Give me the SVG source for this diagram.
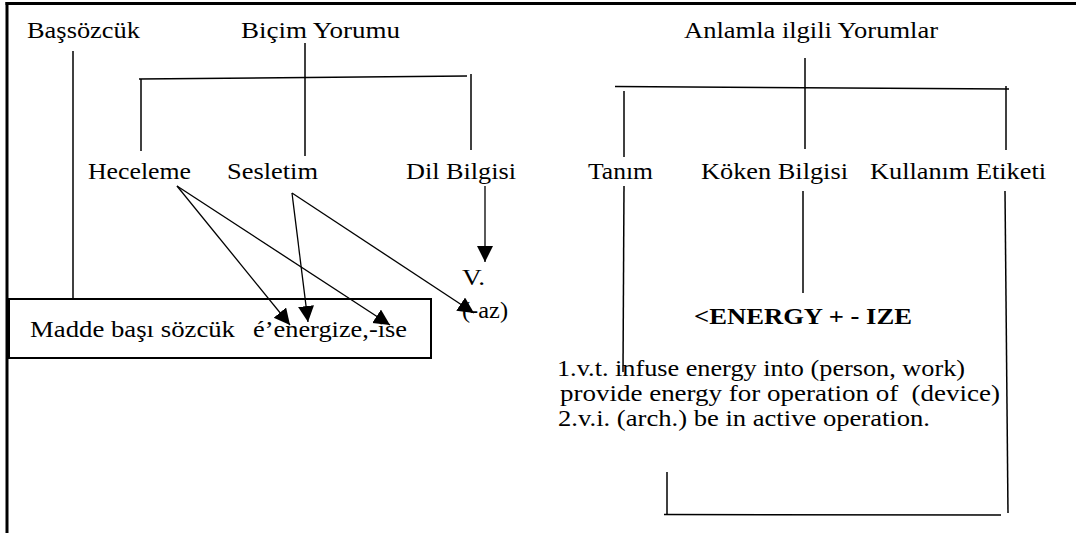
<svg xmlns="http://www.w3.org/2000/svg" width="1076" height="533" viewBox="0 0 1076 533">
<style>
text{font-family:"Liberation Serif","Tinos","Times New Roman","DejaVu Serif",serif;font-size:24px;fill:#000}
.b{font-weight:bold}
.ln{stroke:#000;stroke-width:1.5;fill:none}
.ar{stroke:#000;stroke-width:1.3;fill:none;marker-end:url(#ah)}
.frame{stroke:#000;stroke-width:3;fill:none}
</style>
<defs>
<marker id="ah" markerUnits="userSpaceOnUse" markerWidth="18" markerHeight="18" refX="16" refY="8" orient="auto">
<path d="M0,0 L16,8 L0,16 z" fill="#000"/>
</marker>
</defs>
<rect width="1076" height="533" fill="#fff"/>
<g id="frame">
<line class="frame" x1="5.5" y1="3.5" x2="1076" y2="3.5"/>
<line class="frame" x1="7" y1="2" x2="7" y2="533"/>
</g>
<g id="connectors">
<line class="ln" x1="73" y1="51" x2="73" y2="299"/>
<line class="ln" x1="305" y1="43" x2="305" y2="156"/>
<line class="ln" x1="139" y1="79" x2="467" y2="76"/>
<line class="ln" x1="141" y1="79" x2="141" y2="151"/>
<line class="ln" x1="471" y1="74" x2="471" y2="150"/>
<line class="ln" x1="805" y1="58" x2="805" y2="149"/>
<line class="ln" x1="615" y1="86.5" x2="1009" y2="89"/>
<line class="ln" x1="624" y1="91" x2="624" y2="157"/>
<line class="ln" x1="1006" y1="86" x2="1006" y2="150"/>
<line class="ln" x1="624" y1="186" x2="623" y2="372"/>
<line class="ln" x1="803" y1="191" x2="803" y2="293"/>
<line class="ln" x1="1005" y1="191" x2="1008" y2="513"/>
<line class="ln" x1="667" y1="472" x2="667" y2="514"/>
<line class="ln" x1="664" y1="514.5" x2="1001" y2="515"/>
<line class="ar" x1="485" y1="186" x2="485" y2="262"/>
<line class="ar" x1="177" y1="186" x2="290" y2="325"/>
<line class="ar" x1="177" y1="186" x2="390" y2="325"/>
<line class="ar" x1="292" y1="193" x2="308" y2="322"/>
<line class="ar" x1="292" y1="193" x2="474" y2="313"/>
</g>
<g font-family="Liberation Serif, Tinos, Times New Roman, DejaVu Serif, serif">
<g id="bassozcuk"><text x="27" y="38" textLength="113" lengthAdjust="spacingAndGlyphs">Başsözcük</text></g>
<g id="bicim-yorumu"><text x="241" y="38" textLength="159" lengthAdjust="spacingAndGlyphs">Biçim Yorumu</text></g>
<g id="anlamla"><text x="684" y="38" textLength="254" lengthAdjust="spacingAndGlyphs">Anlamla ilgili Yorumlar</text></g>
<g id="heceleme"><text x="88" y="179" textLength="103" lengthAdjust="spacingAndGlyphs">Heceleme</text></g>
<g id="sesletim"><text x="227" y="179" textLength="91" lengthAdjust="spacingAndGlyphs">Sesletim</text></g>
<g id="dil-bilgisi"><text x="406" y="179" textLength="110" lengthAdjust="spacingAndGlyphs">Dil Bilgisi</text></g>
<g id="tanim"><text x="588" y="179" textLength="65" lengthAdjust="spacingAndGlyphs">Tanım</text></g>
<g id="koken"><text x="701" y="179" textLength="147" lengthAdjust="spacingAndGlyphs">Köken Bilgisi</text></g>
<g id="kullanim"><text x="870" y="179" textLength="176" lengthAdjust="spacingAndGlyphs">Kullanım Etiketi</text></g>
<g id="v"><text x="462" y="285" textLength="23" lengthAdjust="spacingAndGlyphs">V.</text></g>
<g id="az"><text x="462" y="318" textLength="46" lengthAdjust="spacingAndGlyphs">(-az)</text></g>
<g id="madde">
<rect x="9" y="299" width="422" height="59" fill="none" stroke="#000" stroke-width="2"/>
<text x="30" y="337" textLength="205" lengthAdjust="spacingAndGlyphs">Madde başı sözcük</text>
<text x="253" y="337" textLength="154" lengthAdjust="spacingAndGlyphs">é’energize,-ise</text>
</g>
<g id="energy"><text class="b" x="694" y="324" textLength="218" lengthAdjust="spacingAndGlyphs">&lt;ENERGY + - IZE</text></g>
<g id="tanim-def">
<text x="557" y="376" textLength="408" lengthAdjust="spacingAndGlyphs">1.v.t. infuse energy into (person, work)</text>
<text x="560" y="401" textLength="440" lengthAdjust="spacingAndGlyphs" xml:space="preserve">provide energy for operation of  (device)</text>
<text x="558" y="426" textLength="372" lengthAdjust="spacingAndGlyphs">2.v.i. (arch.) be in active operation.</text>
</g>
</g>
</svg>
